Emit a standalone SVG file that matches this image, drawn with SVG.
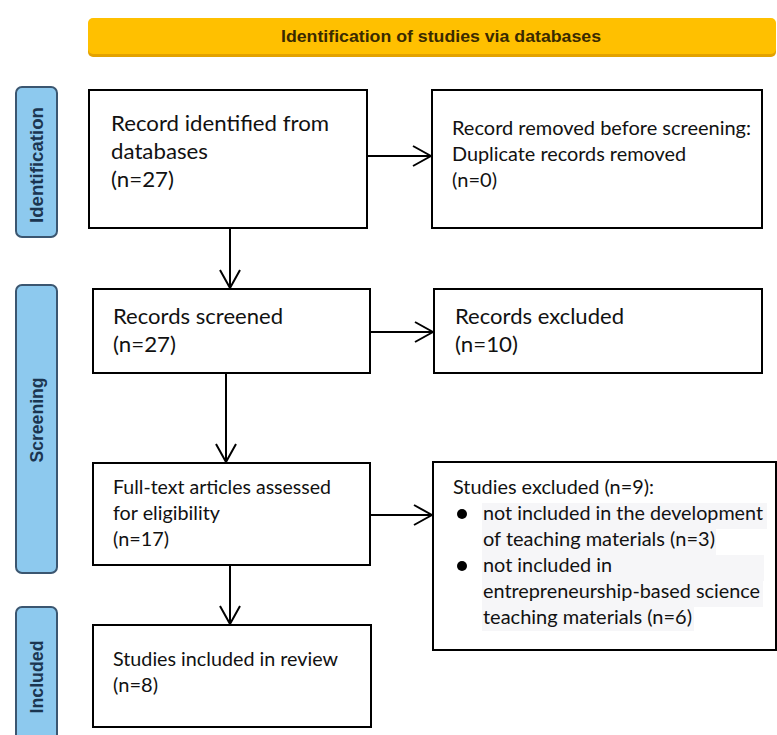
<svg xmlns="http://www.w3.org/2000/svg" width="777" height="735" viewBox="0 0 777 735">
<style>
.box{fill:#fff;stroke:#000;stroke-width:2}
.bar{fill:#8DC9EE;stroke:#3B5670;stroke-width:2}
.bt{font-family:"Liberation Sans",Arial,sans-serif;font-weight:bold;font-size:18px;fill:#1B3550;text-anchor:middle}
.t{font-family:Lato,"Open Sans",sans-serif;fill:#111}
.big{font-size:22px}
.sm{font-size:19.5px}
.conn{stroke:#000;stroke-width:2;fill:none;marker-end:url(#ah)}
.hl{fill:#F6F6F8}
</style>
<defs>
<marker id="ah" markerUnits="userSpaceOnUse" viewBox="0 0 20 22" refX="19" refY="11" markerWidth="20" markerHeight="22" orient="auto">
<path d="M1,1 L19,11 L1,21" fill="none" stroke="#000" stroke-width="2"/>
</marker>
</defs>
<rect width="777" height="735" fill="#fff"/>
<g id="banner">
<rect x="88" y="20" width="688" height="37" rx="5" fill="#E3A200"/>
<rect x="88" y="18" width="688" height="36" rx="5" fill="#FFC000"/>
<text x="441" y="42" font-family="Liberation Sans,Arial,sans-serif" font-weight="bold" font-size="16" fill="#3A2A00" text-anchor="middle" textLength="320" lengthAdjust="spacingAndGlyphs">Identification of studies via databases</text>
</g>
<g id="bar-identification">
<rect class="bar" x="16" y="87" width="41" height="150" rx="6"/>
<text class="bt" transform="translate(43,165) rotate(-90)" textLength="116" lengthAdjust="spacingAndGlyphs">Identification</text>
</g>
<g id="bar-screening">
<rect class="bar" x="16" y="285" width="41" height="288" rx="6"/>
<text class="bt" transform="translate(43,420) rotate(-90)" textLength="85" lengthAdjust="spacingAndGlyphs">Screening</text>
</g>
<g id="bar-included">
<rect class="bar" x="16" y="607" width="41" height="140" rx="6"/>
<text class="bt" transform="translate(43,677) rotate(-90)" textLength="73" lengthAdjust="spacingAndGlyphs">Included</text>
</g>
<g id="connectors">
<line class="conn" x1="367" y1="156" x2="431" y2="156"/>
<line class="conn" x1="230" y1="228" x2="230" y2="288"/>
<line class="conn" x1="370" y1="332" x2="433" y2="332"/>
<line class="conn" x1="226" y1="373" x2="226" y2="462"/>
<line class="conn" x1="370" y1="515" x2="432" y2="515"/>
<line class="conn" x1="230" y1="565" x2="230" y2="624"/>
</g>
<g id="n1">
<rect class="box" x="89" y="90" width="278" height="138"/>
<text class="t big" x="111" y="131" textLength="218" lengthAdjust="spacingAndGlyphs">Record identified from</text>
<text class="t big" x="111" y="159" textLength="97" lengthAdjust="spacingAndGlyphs">databases</text>
<text class="t big" x="111" y="187" textLength="63" lengthAdjust="spacingAndGlyphs">(n=27)</text>
</g>
<g id="n2">
<rect class="box" x="432" y="90" width="330" height="138"/>
<text class="t sm" x="452" y="135" textLength="299" lengthAdjust="spacingAndGlyphs">Record removed before screening:</text>
<text class="t sm" x="452" y="161" textLength="234" lengthAdjust="spacingAndGlyphs">Duplicate records removed</text>
<text class="t sm" x="452" y="187" textLength="45" lengthAdjust="spacingAndGlyphs">(n=0)</text>
</g>
<g id="n3">
<rect class="box" x="93" y="289" width="277" height="84"/>
<text class="t big" x="113" y="324" textLength="170" lengthAdjust="spacingAndGlyphs">Records screened</text>
<text class="t big" x="113" y="352" textLength="63" lengthAdjust="spacingAndGlyphs">(n=27)</text>
</g>
<g id="n4">
<rect class="box" x="434" y="289" width="328" height="84"/>
<text class="t big" x="455" y="324" textLength="169" lengthAdjust="spacingAndGlyphs">Records excluded</text>
<text class="t big" x="455" y="352" textLength="63" lengthAdjust="spacingAndGlyphs">(n=10)</text>
</g>
<g id="n5">
<rect class="box" x="93" y="463" width="277" height="102"/>
<text class="t sm" x="113" y="494" textLength="218" lengthAdjust="spacingAndGlyphs">Full-text articles assessed</text>
<text class="t sm" x="113" y="520" textLength="107" lengthAdjust="spacingAndGlyphs">for eligibility</text>
<text class="t sm" x="113" y="546" textLength="56" lengthAdjust="spacingAndGlyphs">(n=17)</text>
</g>
<g id="n6">
<rect class="box" x="433" y="462" width="343" height="188"/>
<rect class="hl" x="482" y="503" width="285" height="26"/>
<rect class="hl" x="482" y="529" width="234" height="26"/>
<rect class="hl" x="482" y="555" width="282" height="26"/>
<rect class="hl" x="482" y="581" width="281" height="26"/>
<rect class="hl" x="482" y="607" width="212" height="24"/>
<text class="t sm" x="453" y="494" textLength="201" lengthAdjust="spacingAndGlyphs">Studies excluded (n=9):</text>
<circle cx="462" cy="514" r="5" fill="#000"/>
<text class="t sm" x="483" y="520" textLength="280" lengthAdjust="spacingAndGlyphs">not included in the development</text>
<text class="t sm" x="483" y="546" textLength="232" lengthAdjust="spacingAndGlyphs">of teaching materials (n=3)</text>
<circle cx="462" cy="566" r="5" fill="#000"/>
<text class="t sm" x="483" y="572" textLength="129" lengthAdjust="spacingAndGlyphs">not included in</text>
<text class="t sm" x="483" y="598" textLength="277" lengthAdjust="spacingAndGlyphs">entrepreneurship-based science</text>
<text class="t sm" x="483" y="624" textLength="209" lengthAdjust="spacingAndGlyphs">teaching materials (n=6)</text>
</g>
<g id="n7">
<rect class="box" x="93" y="625" width="278" height="102"/>
<text class="t sm" x="113" y="666" textLength="225" lengthAdjust="spacingAndGlyphs">Studies included in review</text>
<text class="t sm" x="113" y="692" textLength="45" lengthAdjust="spacingAndGlyphs">(n=8)</text>
</g>
</svg>
